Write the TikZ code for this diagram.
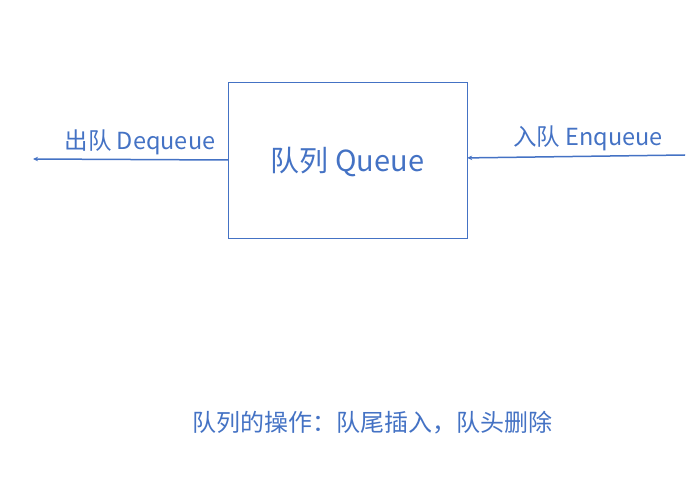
\documentclass[tikz,border=0pt]{standalone}
\usepackage{fontspec}
\setmainfont{Noto Sans CJK SC}
\usetikzlibrary{arrows.meta}
\definecolor{qblue}{HTML}{4472C4}
\tikzset{
  qblock/.style={draw=qblue, rectangle, thin, text=qblue, font=\fontsize{29}{33}\selectfont},
  qwire/.style={draw=qblue, line width=1.5pt, -{Stealth[length=5pt,width=4.5pt]}},
  qword/.style={text=qblue, font=\fontsize{23.5}{27}\selectfont},
  qnote/.style={text=qblue, font=\fontsize{24}{28}\selectfont}
}
\begin{document}
\begin{tikzpicture}[x=1pt,y=1pt]
    \useasboundingbox (0,0) rectangle (690,-486);
    \node[qblock, minimum width=239pt, minimum height=156pt, text height=26pt, text depth=2pt] (q) at (347.5,-160) {队列 Queue};
    \coordinate (out) at (33,-159);
    \coordinate (in) at (685,-155);
    \node[qword] (deq) at (140,-142) {出队 Dequeue};
    \node[qword] (enq) at (588,-138) {入队 Enqueue};
    \draw[qwire] (q.west) -- (out);
    \draw[qwire] (in) -- (q.1);
    \node[qnote] (ops) at (372,-423) {队列的操作：队尾插入，队头删除};
\end{tikzpicture}
\end{document}
